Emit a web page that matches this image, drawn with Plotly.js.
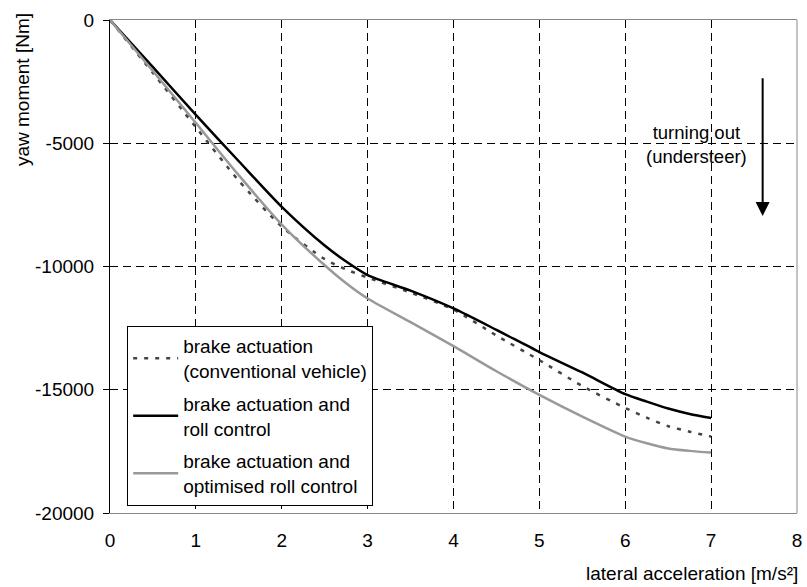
<!DOCTYPE html>
<html>
<head>
<meta charset="utf-8">
<script src="https://cdn.plot.ly/plotly-3.0.1.min.js"></script>
<style>html,body{margin:0;padding:0;background:#fff;}#chart{width:807px;height:587px;}</style>
</head>
<body>
<div id="chart"></div>
<script>
// lateral acceleration [m/s²]
const accel = [0, 0.5, 1, 1.5, 2, 2.5, 2.75, 3, 3.5, 4, 4.5, 5, 5.5, 6, 6.25, 6.5, 6.75, 7];
// yaw moment [Nm]
const brakeConventional = [0, -2150, -4350, -6520, -8380, -9700, -10120, -10450, -11060, -11750, -12800, -13800, -14850, -15740, -16130, -16480, -16700, -16900];
const brakeRollControl = [0, -1910, -3850, -5730, -7580, -9150, -9800, -10350, -10980, -11700, -12570, -13470, -14300, -15180, -15480, -15760, -15980, -16150];
const brakeOptimisedRoll = [0, -2070, -4180, -6300, -8300, -9950, -10680, -11300, -12260, -13230, -14250, -15210, -16090, -16900, -17170, -17380, -17480, -17550];

const seriesNames = [
  'brake actuation<br>(conventional vehicle)',
  'brake actuation and<br>roll control',
  'brake actuation and<br>optimised roll control'
];
const xTicks = [0, 1, 2, 3, 4, 5, 6, 7, 8];
const yTicks = [0, -5000, -10000, -15000, -20000];

const FONT = 'Arial, "Liberation Sans", Helvetica, sans-serif';
const FS = 19;

const traces = [
  {x: accel, y: brakeConventional, name: seriesNames[0], legendgroup: 'a', mode: 'lines',
   line: {color: '#444444', width: 2.5, dash: '4px,7px', shape: 'spline', smoothing: 0.7}},
  {x: accel, y: brakeRollControl, name: seriesNames[1], legendgroup: 'b', mode: 'lines',
   line: {color: '#000000', width: 2.5, shape: 'spline', smoothing: 0.7}},
  {x: accel, y: brakeOptimisedRoll, name: seriesNames[2], legendgroup: 'c', mode: 'lines',
   line: {color: '#999999', width: 2.5, shape: 'spline', smoothing: 0.7}}
];

const layout = {
  width: 807, height: 587,
  margin: {l: 110, r: 10, t: 20, b: 74},
  paper_bgcolor: '#ffffff', plot_bgcolor: '#ffffff',
  font: {family: FONT, size: FS, color: '#000'},
  showlegend: true,
  legend: {
    x: 0.025, y: 0.379, xanchor: 'left', yanchor: 'top',
    bgcolor: '#ffffff', bordercolor: '#000000', borderwidth: 1,
    font: {family: FONT, size: 19, color: '#000'},
    itemwidth: 45, tracegroupgap: 5, traceorder: 'grouped'
  },
  xaxis: {
    range: [0, 8], tickvals: xTicks, ticktext: xTicks.map(String),
    showgrid: true, gridcolor: '#000000', gridwidth: 1, griddash: '8px,5px',
    zeroline: false, showline: true, linecolor: '#888888', linewidth: 1, mirror: true,
    ticks: '', ticklabelstandoff: 10,
    tickfont: {family: FONT, size: FS, color: '#000'}
  },
  yaxis: {
    range: [-20000, 0], tickvals: yTicks, ticktext: yTicks.map(String),
    showgrid: true, gridcolor: '#000000', gridwidth: 1, griddash: '8px,5px',
    zeroline: false, showline: true, linecolor: '#000000', linewidth: 1,
    ticks: 'outside', ticklen: 6, tickcolor: '#000', ticklabelstandoff: 5,
    tickfont: {family: FONT, size: FS, color: '#000'}
  },
  shapes: [
    {type: 'line', xref: 'paper', yref: 'paper', x0: 1, x1: 1, y0: 0, y1: 1,
     line: {color: '#888888', width: 1}}
  ],
  annotations: [
    {xref: 'paper', yref: 'paper', x: -0.128, y: 0.858, xanchor: 'center', yanchor: 'middle',
     text: 'yaw moment [Nm]', textangle: -90, showarrow: false,
     font: {family: FONT, size: FS, color: '#000'}},
    {xref: 'paper', yref: 'paper', x: 1.005, y: -0.148, xanchor: 'right', yanchor: 'bottom',
     text: 'lateral acceleration [m/s²]', showarrow: false,
     font: {family: FONT, size: FS, color: '#000'}},
    {xref: 'x', yref: 'y', x: 6.83, y: -5070, xanchor: 'center', yanchor: 'middle',
     text: 'turning out<br>(understeer)', showarrow: false, align: 'center',
     font: {family: FONT, size: 18.5, color: '#000'}},
    {xref: 'x', yref: 'y', axref: 'x', ayref: 'y', x: 7.6, y: -7950, ax: 7.6, ay: -2300,
     text: '', showarrow: true, arrowhead: 2, arrowsize: 1.4, arrowwidth: 2, arrowcolor: '#000'}
  ]
};

Plotly.newPlot('chart', traces, layout, {displayModeBar: false, staticPlot: true});
</script>
</body>
</html>
